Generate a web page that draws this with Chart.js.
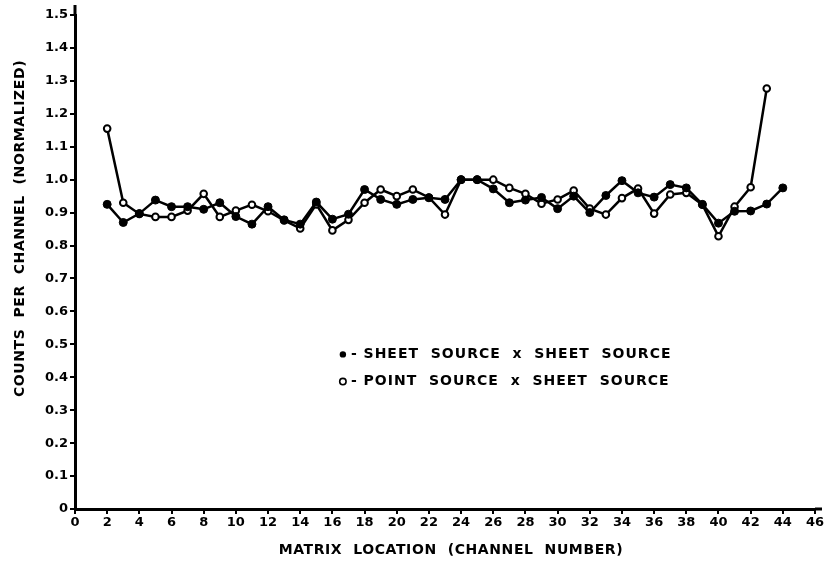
<!DOCTYPE html>
<html>
<head>
<meta charset="utf-8">
<script src="https://cdn.jsdelivr.net/npm/chart.js@4/dist/chart.umd.min.js"></script>
<style>
  html, body { margin: 0; padding: 0; background: #fff; }
  #wrap { width: 831px; height: 567px; position: relative; }
</style>
</head>
<body>
<div id="wrap"><canvas id="chart" width="831" height="567"></canvas></div>
<script>
// ---------- data ----------
const sheetChannels = [2,3,4,5,6,7,8,9,10,11,12,13,14,15,16,17,18,19,20,21,22,23,24,25,26,27,28,29,30,31,32,33,34,35,36,37,38,39,40,41,42,43,44];
const sheetValues = [0.925,0.87,0.897,0.938,0.918,0.918,0.91,0.93,0.888,0.865,0.918,0.878,0.865,0.932,0.88,0.895,0.97,0.94,0.925,0.94,0.945,0.94,1.0,1.0,0.972,0.93,0.938,0.946,0.912,0.95,0.9,0.952,0.997,0.96,0.947,0.985,0.975,0.925,0.868,0.904,0.905,0.926,0.975];

const pointChannels = [2,3,4,5,6,7,8,9,10,11,12,13,14,15,16,17,18,19,20,21,22,23,24,25,26,27,28,29,30,31,32,33,34,35,36,37,38,39,40,41,42,43];
const pointValues = [1.155,0.93,0.896,0.887,0.887,0.906,0.957,0.887,0.906,0.924,0.904,0.876,0.852,0.925,0.846,0.878,0.93,0.97,0.95,0.97,0.946,0.894,1.0,1.0,1.0,0.975,0.957,0.927,0.94,0.967,0.912,0.894,0.944,0.973,0.897,0.955,0.96,0.924,0.828,0.918,0.977,1.277];

const legendLabels = ['- SHEET  SOURCE  x  SHEET  SOURCE', '- POINT  SOURCE  x  SHEET  SOURCE'];
const xTitle = 'MATRIX  LOCATION  (CHANNEL  NUMBER)';
const yTitle = 'COUNTS  PER  CHANNEL  (NORMALIZED)';

// ---------- helpers ----------
function toPoints(xs, ys) { return xs.map((x, i) => ({ x: x, y: ys[i] })); }

const FONT = '"DejaVu Sans", sans-serif';

// legend inside the plot + axis titles + little axis overhangs
const annotations = {
  id: 'annotations',
  afterDraw(chart) {
    const ctx = chart.ctx;
    const a = chart.chartArea;
    ctx.save();
    ctx.fillStyle = '#000';
    ctx.strokeStyle = '#000';

    // axis overhang like the original drawing
    ctx.lineWidth = 3;
    ctx.beginPath();
    ctx.moveTo(a.left, a.top); ctx.lineTo(a.left, a.top - 10);
    ctx.moveTo(a.right, a.bottom); ctx.lineTo(a.right + 7, a.bottom);
    ctx.stroke();

    // legend
    const x0 = a.left + (a.right - a.left) * 0.362;
    const rows = [a.top + (a.bottom - a.top) * 0.687, a.top + (a.bottom - a.top) * 0.742];
    ctx.font = 'bold 14px ' + FONT;
    ctx.letterSpacing = '1px';
    ctx.textBaseline = 'middle';
    ctx.textAlign = 'left';
    rows.forEach((y, i) => {
      ctx.beginPath();
      ctx.arc(x0, y, 3.2, 0, Math.PI * 2);
      if (i === 0) ctx.fill();
      else { ctx.lineWidth = 1.6; ctx.stroke(); }
      ctx.fillText(legendLabels[i], x0 + 8, y);
    });

    // x title
    ctx.letterSpacing = '0.6px';
    ctx.textAlign = 'center';
    ctx.fillText(xTitle, a.left + (a.right - a.left) * 0.508, a.bottom + 41);

    // y title (rotated)
    ctx.translate(20, a.top + (a.bottom - a.top) * 0.432);
    ctx.rotate(-Math.PI / 2);
    ctx.fillText(yTitle, 0, 0);
    ctx.restore();
  }
};

const ctx = document.getElementById('chart').getContext('2d');
new Chart(ctx, {
  type: 'line',
  data: {
    datasets: [
      {
        label: 'Sheet source x sheet source',
        data: toPoints(sheetChannels, sheetValues),
        borderColor: '#000',
        backgroundColor: '#000',
        borderWidth: 2.5,
        pointRadius: 4,
        pointBorderWidth: 1,
        pointBackgroundColor: '#000',
        pointBorderColor: '#000',
        tension: 0,
        fill: false
      },
      {
        label: 'Point source x sheet source',
        data: toPoints(pointChannels, pointValues),
        borderColor: '#000',
        backgroundColor: '#fff',
        borderWidth: 2.5,
        pointRadius: 3.3,
        pointBorderWidth: 2,
        pointBackgroundColor: '#fff',
        pointBorderColor: '#000',
        tension: 0,
        fill: false
      }
    ]
  },
  options: {
    responsive: false,
    animation: false,
    layout: { padding: { top: 15, right: 16, left: 0, bottom: 0 } },
    plugins: { legend: { display: false }, tooltip: { enabled: false } },
    scales: {
      x: {
        type: 'linear',
        min: 0, max: 46,
        afterFit(s) { s.height = 58; },
        ticks: { stepSize: 2, color: '#000', padding: 1, maxRotation: 0,
                 font: { family: FONT, size: 13, weight: 'bold' } },
        grid: { display: true, drawOnChartArea: false, drawTicks: true, tickLength: 5, color: '#000', lineWidth: 2 },
        border: { display: true, color: '#000', width: 3 },
        title: { display: false }
      },
      y: {
        type: 'linear',
        min: 0, max: 1.5,
        afterFit(s) { s.width = 75; },
        ticks: { stepSize: 0.1, color: '#000', padding: 2,
                 callback: v => (Math.abs(v) < 1e-9 ? '0' : v.toFixed(1)),
                 font: { family: FONT, size: 13, weight: 'bold' } },
        grid: { display: true, drawOnChartArea: false, drawTicks: true, tickLength: 5, color: '#000', lineWidth: 2 },
        border: { display: true, color: '#000', width: 3 },
        title: { display: false }
      }
    }
  },
  plugins: [annotations]
});
</script>
</body>
</html>
